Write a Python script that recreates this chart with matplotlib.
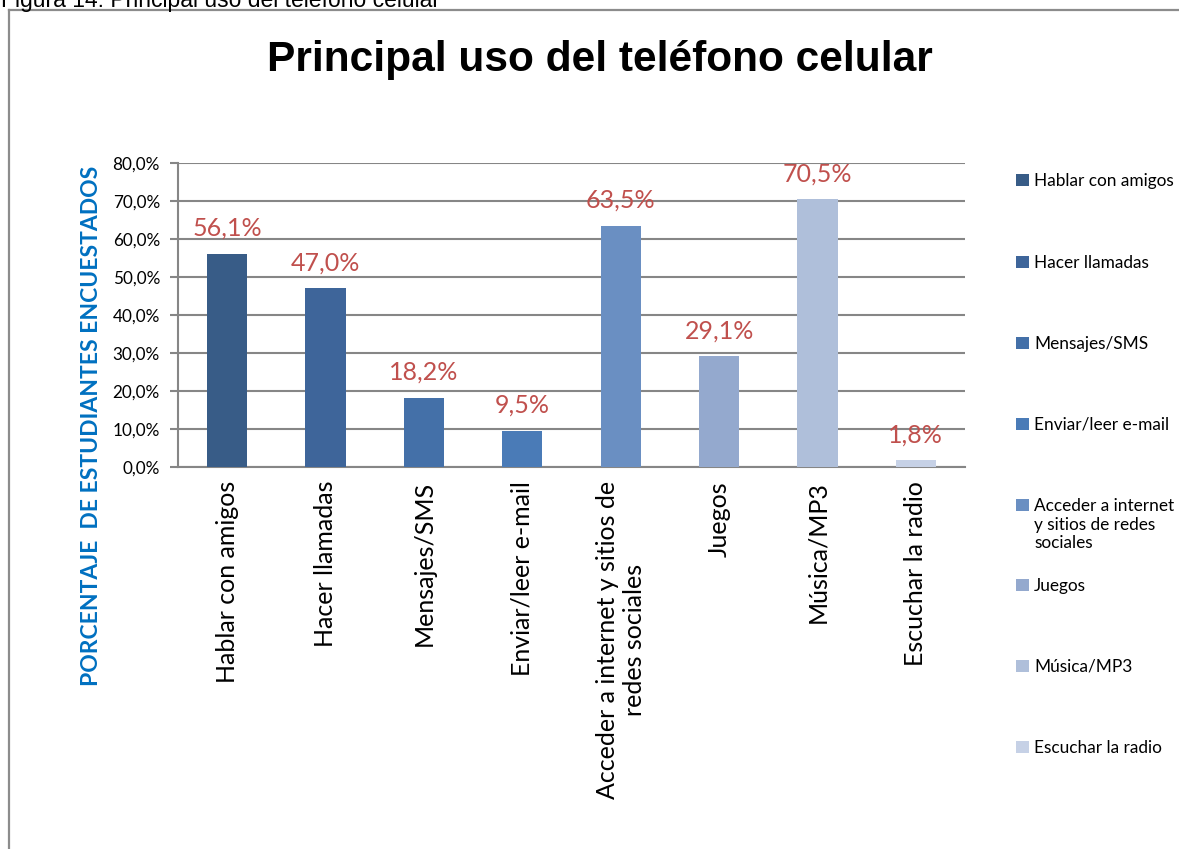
import numpy as np
import matplotlib.pyplot as plt
from matplotlib.lines import Line2D
from matplotlib.patches import Rectangle
from matplotlib.ticker import FuncFormatter

categories = ["Hablar con amigos", "Hacer llamadas", "Mensajes/SMS", "Enviar/leer e-mail",
              "Acceder a internet y sitios de\nredes sociales", "Juegos", "Música/MP3",
              "Escuchar la radio"]
legend_labels = ["Hablar con amigos", "Hacer llamadas", "Mensajes/SMS", "Enviar/leer e-mail",
                 "Acceder a internet\ny sitios de redes\nsociales", "Juegos", "Música/MP3",
                 "Escuchar la radio"]
values = [56.1, 47.0, 18.2, 9.5, 63.5, 29.1, 70.5, 1.8]
colors = ["#385C87", "#3E659A", "#4470A8", "#4A7BB7", "#6A8FC2", "#94A9CE", "#AFBFDA", "#C6D1E6"]
yticks = [0, 10, 20, 30, 40, 50, 60, 70, 80]

W, H = 1179, 849
fig = plt.figure(figsize=(W / 100, H / 100), dpi=100)
fig.patch.set_facecolor("white")

# border of the embedded chart
fig.add_artist(Line2D([8.5 / W, 8.5 / W], [0, 1 - 10 / H], color="#8c8c8c", lw=1.6))
fig.add_artist(Line2D([8.5 / W, 1], [1 - 10 / H, 1 - 10 / H], color="#8c8c8c", lw=1.6))

fig.text(1 / W, 1 - 7 / H, "Figura 14: Principal uso del teléfono celular",
         family="Liberation Sans", fontsize=16.5, va="baseline", ha="left")
fig.text(600 / W, 1 - 71 / H, "Principal uso del teléfono celular",
         family="Liberation Sans", fontweight="bold", fontsize=30.6, va="baseline", ha="center")

ax = fig.add_axes([178 / W, 1 - 467 / H, (965 - 178) / W, (467 - 163) / H])
x = np.arange(len(values))
bars = []
for i, (v, c) in enumerate(zip(values, colors)):
    b = ax.bar(x[i], v, width=0.41, color=c, zorder=3)
    bars.append(b)
    ax.annotate(f"{v:.1f}%".replace(".", ","), (x[i], v), xytext=(0, 10),
                textcoords="offset points", ha="center", va="bottom",
                color="#C0504D", fontsize=18, family="Lato")

ax.set_xlim(-0.5, len(values) - 0.5)
ax.set_ylim(0, 80)
ax.set_yticks(yticks)
ax.yaxis.set_major_formatter(FuncFormatter(lambda v, p: f"{v:.1f}%".replace(".", ",")))
ax.grid(axis="y", color="#868686", lw=1.5, zorder=0)
ax.set_axisbelow(True)
for s in ["top", "right"]:
    ax.spines[s].set_visible(False)
for s in ["left", "bottom"]:
    ax.spines[s].set_color("#868686")
    ax.spines[s].set_linewidth(1.5)
ax.tick_params(axis="y", length=6, color="#868686", width=1.5, labelsize=12.3, pad=7)
ax.tick_params(axis="x", length=0, labelsize=18, pad=10)
for t in ax.get_yticklabels():
    t.set_family("Lato")
ax.set_xticks(x)
ax.set_xticklabels(categories, rotation=90, family="Lato", va="top", ha="center",
                   multialignment="center")

fig.text(92 / W, 1 - 426 / H, "PORCENTAJE  DE ESTUDIANTES ENCUESTADOS", rotation=90,
         color="#0070C0", fontweight="bold", fontsize=16.5, family="Lato",
         ha="center", va="center")

legend_y = [183, 265, 346, 427, 508, 588, 669, 750]
blank = Rectangle((0, 0), 1, 1, alpha=0)
for b, lab, ly in zip(bars, legend_labels, legend_y):
    lines = lab.split("\n")
    handles = [b] + [blank] * (len(lines) - 1)
    fig.legend(handles, lines, loc="upper left", bbox_to_anchor=(1016 / W, 1 - (ly - 10) / H),
               frameon=False, prop={"family": "Lato", "size": 12.4},
               handlelength=0.75, handleheight=0.75, handletextpad=0.3,
               labelspacing=0.15, borderpad=0, borderaxespad=0)

fig.savefig("out.png", dpi=100)
